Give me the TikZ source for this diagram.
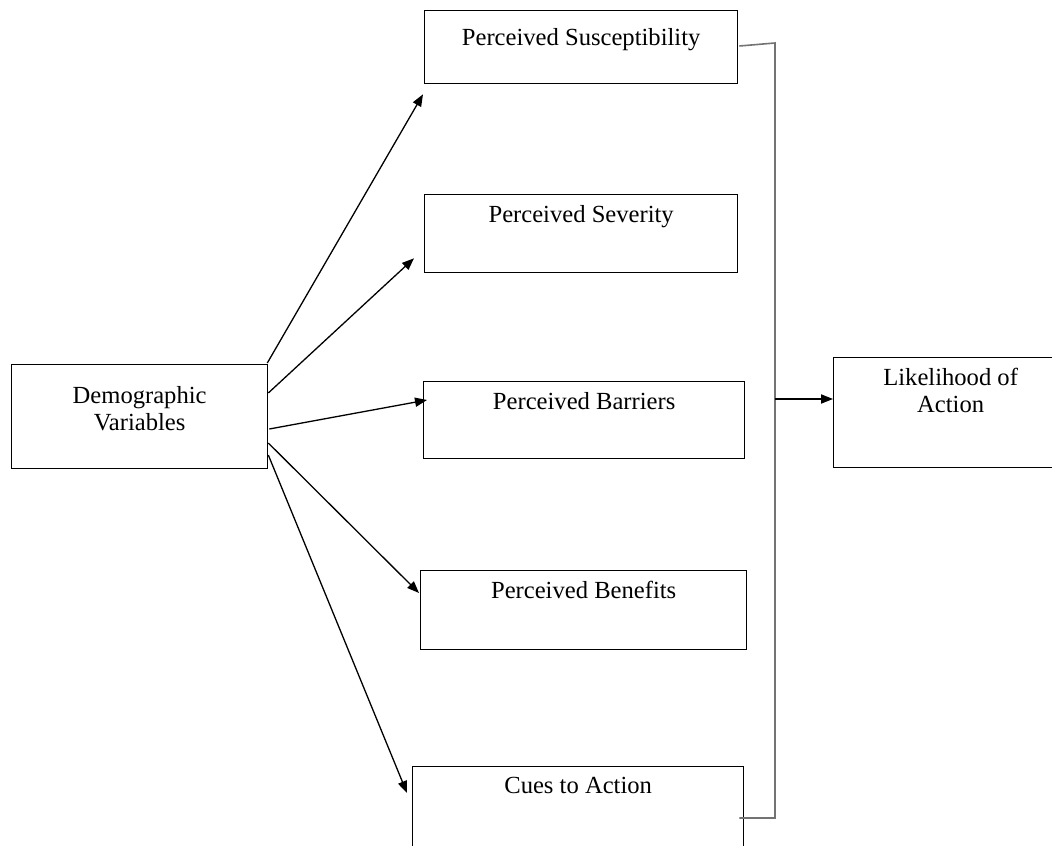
\documentclass[tikz,border=0pt]{standalone}
\usepackage{fontspec}
\setmainfont{Liberation Serif}
\usepackage{tikz}
\usetikzlibrary{arrows.meta}
\tikzset{
    box/.style={draw=black, rectangle, inner sep=0pt, anchor=north west},
    lbl/.style={anchor=base, inner sep=0pt, align=center, font=\fontsize{12.3}{13.5}\selectfont},
    arr/.style={draw=black, -{Triangle[length=6pt,width=4.6pt]}},
    bus/.style={draw=black!55, line width=0.8pt},
}

\begin{document}
\begin{tikzpicture}[line width=0.65pt, x=0.5pt, y=-0.5pt]
		\useasboundingbox (0,0) rectangle (1052,845);
		\clip (0,0) rectangle (1052,845);
		\node[box, minimum width=128pt, minimum height=52pt] (dem) at (11,364) {};
		\node[box, minimum width=156.5pt, minimum height=36.5pt] (sus) at (424,10) {};
		\node[box, minimum width=156.5pt, minimum height=39pt] (sev) at (424,194) {};
		\node[box, minimum width=160.5pt, minimum height=38.5pt] (bar) at (423,381) {};
		\node[box, minimum width=163pt, minimum height=39.5pt] (ben) at (420,570) {};
		\node[box, minimum width=165.5pt, minimum height=50pt] (cue) at (412,766) {};
		\node[box, minimum width=117pt, minimum height=55pt] (lik) at (833,357) {};
		\node[lbl] (demT) at ([yshift=-33pt]dem.north) {Demographic\\Variables};
		\node[lbl] (susT) at ([yshift=-18pt]sus.north) {Perceived Susceptibility};
		\node[lbl] (sevT) at ([yshift=-14pt]sev.north) {Perceived Severity};
		\node[lbl] (barT) at ([yshift=-14pt]bar.north) {Perceived Barriers};
		\node[lbl] (benT) at ([yshift=-14pt]ben.north) {Perceived Benefits};
		\node[lbl] (cueT) at ([yshift=-13.5pt]cue.north) {Cues to Action};
		\node[lbl] (likT) at ([yshift=-27.5pt]lik.north) {Likelihood of\\Action};
		\draw[arr] ([shift={(-1,-1)}]dem.north east) -- ([shift={(-1,10)}]sus.south west);
		\draw[arr] ([shift={(0,29)}]dem.north east) -- ([shift={(-10,-15)}]sev.south west);
		\draw[arr] ([shift={(1,65)}]dem.north east) -- ([shift={(4,19)}]bar.north west);
		\draw[arr] ([shift={(0,79)}]dem.north east) -- ([shift={(-1,23)}]ben.north west);
		\draw[arr] ([shift={(0,91)}]dem.north east) -- ([shift={(-5,27)}]cue.north west);
		\coordinate (busTop) at (775,43);
		\coordinate (busMid) at (775,399);
		\coordinate (busBot) at (775,818);
		\draw[bus] ([shift={(1,36)}]sus.north east) -- (busTop) -- (busBot) -- ([shift={(-5,52)}]cue.north east);
		\draw[arr] (busMid) -- ([shift={(0,42)}]lik.north west);
	 \end{tikzpicture}
\end{document}
